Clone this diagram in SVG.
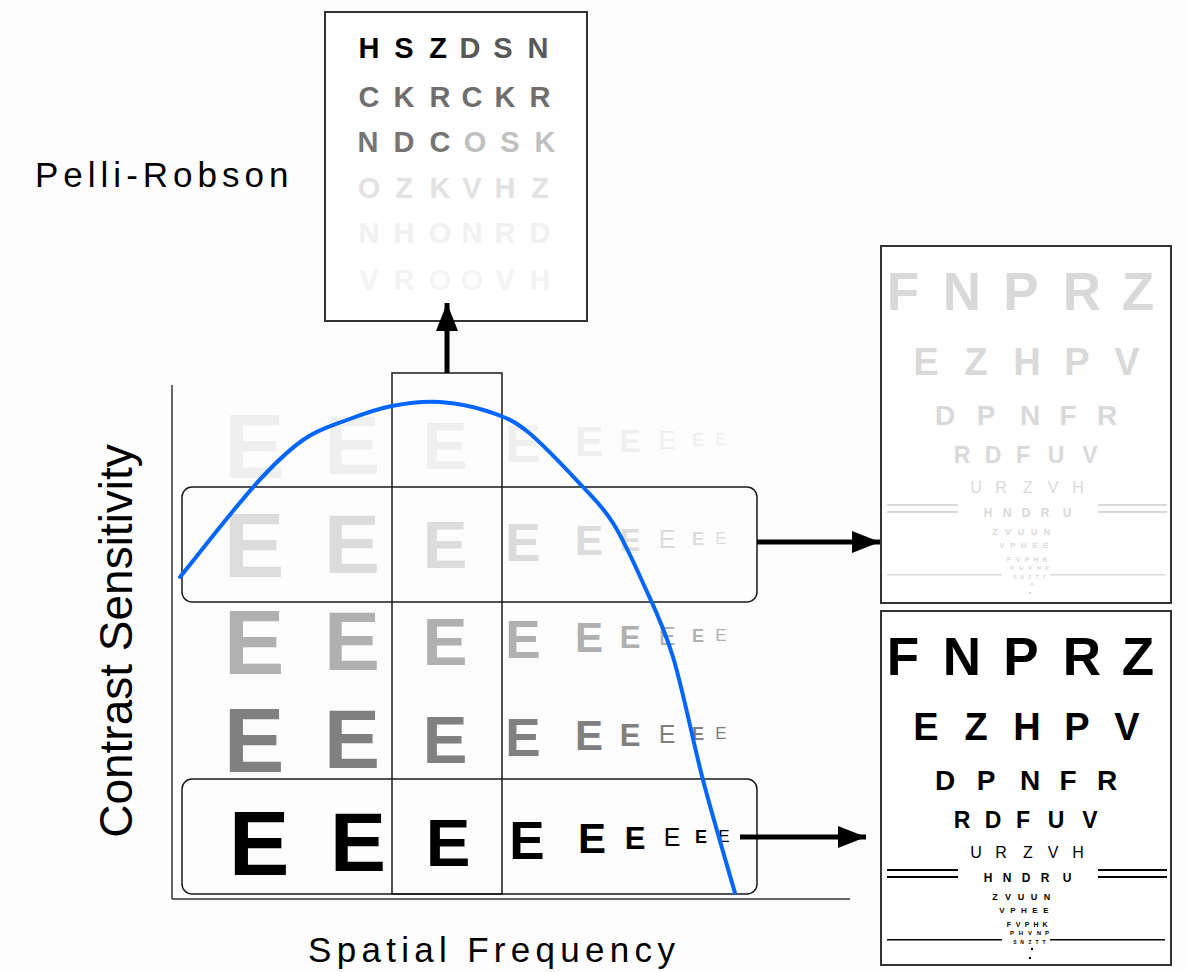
<svg xmlns="http://www.w3.org/2000/svg" xmlns:xlink="http://www.w3.org/1999/xlink" width="1187" height="972" viewBox="0 0 1187 972">
  <style>
    .sans { font-family: "Liberation Sans", Arial, sans-serif; }
    .e { font-family: "Liberation Sans", Arial, sans-serif; font-weight: bold; text-anchor: middle; }
    .thin { font-weight: normal; }
    .c1 { font-size: 91px; } .c2 { font-size: 84px; } .c3 { font-size: 67px; }
    .c4 { font-size: 53px; } .c5 { font-size: 42px; } .c6 { font-size: 31px; }
    .c7 { font-size: 25px; } .c8 { font-size: 18px; } .c9 { font-size: 17px; }
    .pr { font-family: "Liberation Sans", Arial, sans-serif; font-weight: bold; font-size: 29px; text-anchor: middle; }
    .chart { fill: #ffffff; stroke: #333333; stroke-width: 2; }
    .box { fill: none; stroke: #1a1a1a; stroke-width: 1.5; }
    .axis { stroke: #333333; stroke-width: 1.5; fill: none; }
    .conn { stroke: #000000; stroke-width: 5; fill: none; }
    .ltr { font-family: "Liberation Sans", Arial, sans-serif; font-weight: bold; text-anchor: middle; }
  </style>
  <defs>
    <marker id="head" markerUnits="userSpaceOnUse" markerWidth="30" markerHeight="24" refX="28" refY="11" orient="auto">
      <path d="M0,0 L28,11 L0,22 Z" fill="#000"/>
    </marker>
    <!-- letter chart layout, coordinates relative to the chart's top-left corner; colour comes from the fill of each use -->
    <g id="letterChart">
      <text class="ltr" font-size="53" y="64" x="22 81 140 201 257">FNPRZ</text>
      <text class="ltr" font-size="38" y="129" x="45 95 146 196 246">EZHPV</text>
      <text class="ltr" font-size="28" y="179" x="64 105 149 187 226">DPNFR</text>
      <text class="ltr" font-size="23" y="217" x="81 112 142 175 209">RDFUV</text>
      <text class="ltr" font-weight="normal" font-size="16" y="247" x="95 120 147 172 197" style="font-weight:normal">URZVH</text>
      <rect x="6" y="258" width="71" height="2"/>
      <rect x="6" y="265" width="71" height="2"/>
      <rect x="217" y="258" width="69" height="2"/>
      <rect x="217" y="265" width="69" height="2"/>
      <text class="ltr" font-size="12" y="271" x="107 126 145 164 186">HNDRU</text>
      <text class="ltr" font-size="9" y="289" x="114 127 140 153 166">ZVUUN</text>
      <text class="ltr" font-size="8" y="302" x="121 132 143 154 165">VPHEE</text>
      <text class="ltr" font-size="7" y="316" x="128 137 146 155 164">FVPHK</text>
      <text class="ltr" font-size="6" y="324" x="131 140 149 158 166">PHVNP</text>
      <rect x="6" y="328" width="115" height="1.5"/>
      <rect x="169" y="328" width="115" height="1.5"/>
      <text class="ltr" font-size="5" y="333" x="134 141 149 156 163">SNZTT</text>
      <rect x="150" y="337" width="2" height="2"/>
      <rect x="148" y="346" width="2" height="2"/>
    </g>
  </defs>

  <rect width="1187" height="972" fill="#fdfdfd"/>

  <!-- axis titles -->
  <text class="sans" x="35" y="187" font-size="35" letter-spacing="5" fill="#000">Pelli-Robson</text>
  <text class="sans" x="308" y="962" font-size="35" letter-spacing="5.3" fill="#000">Spatial Frequency</text>
  <text class="sans" transform="translate(132,641) rotate(-90)" text-anchor="middle" font-size="46" fill="#000">Contrast Sensitivity</text>

  <!-- rows of E optotypes, contrast rising downwards, size falling to the right -->
  <g id="optotypes">
    <g id="row-1" fill="#efefef" transform="translate(0,445)">
      <text class="e c1" x="254" y="32.6">E</text><text class="e c2" x="352" y="29.1">E</text><text class="e c3" x="445" y="24">E</text>
      <text class="e c4" x="523" y="17">E</text><text class="e c5" x="589" y="11">E</text><text class="e c6" x="630" y="7.1">E</text>
      <text class="e c7 thin" x="667" y="4">E</text><text class="e c8" x="698" y="1.4">E</text><text class="e c9 thin" x="721" y="0.1">E</text>
    </g>
    <g id="row-2" fill="#dcdcdc" transform="translate(0,544)">
      <text class="e c1" x="254" y="32.6">E</text><text class="e c2" x="352" y="29.1">E</text><text class="e c3" x="445" y="24">E</text>
      <text class="e c4" x="523" y="17">E</text><text class="e c5" x="589" y="11">E</text><text class="e c6" x="630" y="7.1">E</text>
      <text class="e c7 thin" x="667" y="4">E</text><text class="e c8" x="698" y="1.4">E</text><text class="e c9 thin" x="721" y="0.1">E</text>
    </g>
    <g id="row-3" fill="#b0b0b0" transform="translate(0,641)">
      <text class="e c1" x="254" y="32.6">E</text><text class="e c2" x="352" y="29.1">E</text><text class="e c3" x="445" y="24">E</text>
      <text class="e c4" x="523" y="17">E</text><text class="e c5" x="589" y="11">E</text><text class="e c6" x="630" y="7.1">E</text>
      <text class="e c7 thin" x="667" y="4">E</text><text class="e c8" x="698" y="1.4">E</text><text class="e c9 thin" x="721" y="0.1">E</text>
    </g>
    <g id="row-4" fill="#808080" transform="translate(0,739)">
      <text class="e c1" x="254" y="32.6">E</text><text class="e c2" x="352" y="29.1">E</text><text class="e c3" x="445" y="24">E</text>
      <text class="e c4" x="523" y="17">E</text><text class="e c5" x="589" y="11">E</text><text class="e c6" x="630" y="7.1">E</text>
      <text class="e c7 thin" x="667" y="4">E</text><text class="e c8" x="698" y="1.4">E</text><text class="e c9 thin" x="721" y="0.1">E</text>
    </g>
    <g id="row-5" fill="#000000" transform="translate(0,842)">
      <text class="e c1" x="259" y="32.6">E</text><text class="e c2" x="358" y="29.1">E</text><text class="e c3" x="448" y="24">E</text>
      <text class="e c4" x="527" y="17">E</text><text class="e c5" x="592" y="11">E</text><text class="e c6" x="635" y="7.1">E</text>
      <text class="e c7 thin" x="672" y="4">E</text><text class="e c8" x="701" y="1.4">E</text><text class="e c9 thin" x="724" y="0.1">E</text>
    </g>
  </g>

  <!-- axes -->
  <g id="axes">
    <line class="axis" x1="172" y1="385" x2="172" y2="899"/>
    <line class="axis" x1="172" y1="899" x2="850" y2="899"/>
  </g>

  <!-- selection boxes -->
  <g id="column-box">
    <rect class="box" x="392" y="373" width="110" height="521"/>
  </g>
  <g id="row-box-upper">
    <rect class="box" x="182" y="487" width="575" height="115" rx="10"/>
  </g>
  <g id="row-box-lower">
    <rect class="box" x="182" y="779" width="575" height="115" rx="10"/>
  </g>

  <!-- contrast sensitivity function -->
  <g id="csf-curve">
    <path d="M180,577 C192.5,561.7 234.5,507.8 255,485 C275.5,462.2 287.7,450.8 303,440 C318.3,429.2 332.2,425.7 347,420 C361.8,414.3 376.5,409 392,406 C407.5,403 423.7,401 440,402 C456.3,403 475.3,407 490,412 C504.7,417 512.5,419.5 528,432 C543.5,444.5 568.8,471.8 583,487 C597.2,502.2 603,507 613,523 C623,539 633,560.7 643,583 C653,605.3 663,624.2 673,657 C683,689.8 692.7,740.7 703,780 C713.3,819.3 729.7,874.2 735,893" fill="none" stroke="#0066ff" stroke-width="4" stroke-linecap="round" stroke-linejoin="round"/>
  </g>

  <!-- Pelli-Robson chart -->
  <g id="pelli-robson-chart">
    <rect class="chart" x="325" y="12" width="262" height="309"/>
    <text class="pr" y="58" x="369 404 438 470 503 538"><tspan fill="#000">HSZ</tspan><tspan fill="#585858">DSN</tspan></text>
    <text class="pr" y="107" x="369 404 440 472 505 540" fill="#6e6e6e">CKRCKR</text>
    <text class="pr" y="152" x="368 404 440 475 510 545"><tspan fill="#757575">NDC</tspan><tspan fill="#c0c0c0">OSK</tspan></text>
    <text class="pr" y="198" x="369 404 440 472 505 540" fill="#e2e2e2">OZKVHZ</text>
    <text class="pr" y="243" x="369 404 440 472 505 540" fill="#f1f1f1">NHONRD</text>
    <text class="pr" y="290" x="369 404 440 472 505 540" fill="#f4f4f4">VROOVH</text>
  </g>

  <!-- low-contrast letter chart -->
  <g id="chart-low-contrast">
    <rect class="chart" x="881" y="246" width="290" height="357"/>
    <use xlink:href="#letterChart" href="#letterChart" transform="translate(881,246)" fill="#d9d9d9"/>
  </g>

  <!-- high-contrast letter chart -->
  <g id="chart-high-contrast">
    <rect class="chart" x="881" y="611" width="290" height="354"/>
    <use xlink:href="#letterChart" href="#letterChart" transform="translate(881,611)" fill="#000000"/>
  </g>

  <!-- connectors -->
  <g id="connectors">
    <line class="conn" x1="447" y1="373" x2="447" y2="303" marker-end="url(#head)"/>
    <line class="conn" x1="757" y1="542" x2="880" y2="542" marker-end="url(#head)"/>
    <line class="conn" x1="740" y1="837" x2="866" y2="837" marker-end="url(#head)"/>
  </g>
</svg>
